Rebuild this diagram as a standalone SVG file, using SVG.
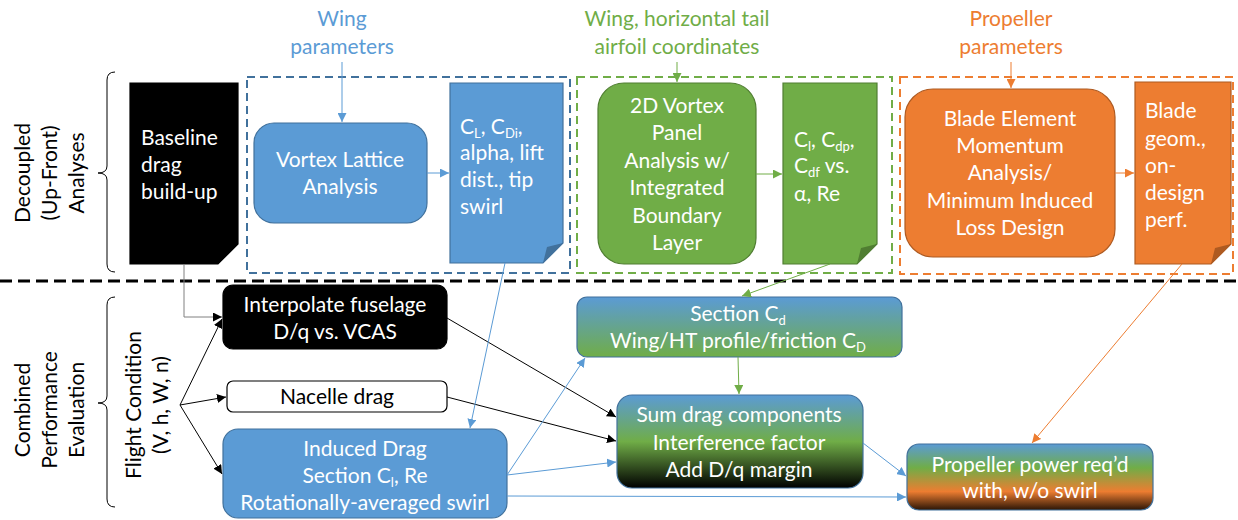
<svg xmlns="http://www.w3.org/2000/svg" width="1238" height="520" viewBox="0 0 1238 520">
  <defs>
    <style>
      .t { font-family: Lato, "Open Sans", "Liberation Sans", sans-serif; font-size: 21px; }
      .w { fill: #ffffff; }
      .k { fill: #000000; }
      .c { text-anchor: middle; }
      .blue { fill: #5B9BD5; stroke: #41719C; stroke-width: 1.2; }
      .green { fill: #70AD47; stroke: #507E32; stroke-width: 1.2; }
      .orange { fill: #ED7D31; stroke: #AE5A21; stroke-width: 1.2; }
      .black { fill: #000000; stroke: #000000; stroke-width: 1.2; }
      .grad { stroke: #41719C; stroke-width: 1.2; }
      .brace { fill: none; stroke: #000000; stroke-width: 1; }
      .dash { fill: none; stroke-width: 2; stroke-dasharray: 8 5; }
      .ck { fill: none; stroke: #000000; stroke-width: 1; }
      .cg { fill: none; stroke: #808080; stroke-width: 1; }
      .cb { fill: none; stroke: #5B9BD5; stroke-width: 1; }
      .cgr { fill: none; stroke: #70AD47; stroke-width: 1; }
      .co { fill: none; stroke: #ED7D31; stroke-width: 1; }
      .sub { font-size: 13px; }
    </style>
    <marker id="ak" viewBox="0 0 10 10" refX="10" refY="5" markerWidth="9" markerHeight="9" markerUnits="userSpaceOnUse" orient="auto">
      <path d="M0,0 L10,5 L0,10 Z" fill="#000000"/>
    </marker>
    <marker id="ab" viewBox="0 0 10 10" refX="10" refY="5" markerWidth="9" markerHeight="9" markerUnits="userSpaceOnUse" orient="auto">
      <path d="M0,0 L10,5 L0,10 Z" fill="#5B9BD5"/>
    </marker>
    <marker id="ag" viewBox="0 0 10 10" refX="10" refY="5" markerWidth="9" markerHeight="9" markerUnits="userSpaceOnUse" orient="auto">
      <path d="M0,0 L10,5 L0,10 Z" fill="#70AD47"/>
    </marker>
    <marker id="ao" viewBox="0 0 10 10" refX="10" refY="5" markerWidth="9" markerHeight="9" markerUnits="userSpaceOnUse" orient="auto">
      <path d="M0,0 L10,5 L0,10 Z" fill="#ED7D31"/>
    </marker>
    <linearGradient id="gSection" x1="0" y1="0" x2="0" y2="1">
      <stop offset="0" stop-color="#5B9BD5"/>
      <stop offset="1" stop-color="#70AD47"/>
    </linearGradient>
    <linearGradient id="gSum" x1="0" y1="0" x2="0" y2="1">
      <stop offset="0" stop-color="#5B9BD5"/>
      <stop offset="0.5" stop-color="#70AD47"/>
      <stop offset="1" stop-color="#000000"/>
    </linearGradient>
    <linearGradient id="gProp" x1="0" y1="0" x2="0" y2="1">
      <stop offset="0" stop-color="#5B9BD5"/>
      <stop offset="0.36" stop-color="#70AD47"/>
      <stop offset="0.72" stop-color="#ED7D31"/>
      <stop offset="1" stop-color="#2B1506"/>
    </linearGradient>
  </defs>

  <rect width="1238" height="520" fill="#ffffff"/>

  <!-- section braces and side titles -->
  <g id="upfront-label">
    <path class="brace" d="M115,72 Q107,72 107,80 L107,166 Q107,173 98,173 Q107,173 107,180 L107,264 Q107,272 115,272"/>
    <g transform="translate(0,173) rotate(-90)">
      <text class="t k c" x="0" y="30">Decoupled</text>
      <text class="t k c" x="0" y="57">(Up-Front)</text>
      <text class="t k c" x="0" y="84">Analyses</text>
    </g>
  </g>
  <g id="combined-label">
    <path class="brace" d="M115,297 Q107,297 107,305 L107,396 Q107,403 98,403 Q107,403 107,410 L107,499 Q107,507 115,507"/>
    <g transform="translate(0,410) rotate(-90)">
      <text class="t k c" x="0" y="30">Combined</text>
      <text class="t k c" x="0" y="57">Performance</text>
      <text class="t k c" x="0" y="84">Evaluation</text>
    </g>
  </g>
  <g id="flight-condition">
    <g transform="translate(0,405) rotate(-90)">
      <text class="t k c" x="0" y="141">Flight Condition</text>
      <text class="t k c" x="0" y="168">(V, h, W, n)</text>
    </g>
  </g>

  <!-- divider between the two phases -->
  <line x1="0" y1="281" x2="1238" y2="281" stroke="#000000" stroke-width="3" stroke-dasharray="12 6"/>

  <!-- input labels -->
  <g id="wing-params">
    <text class="t c" fill="#5B9BD5" x="342" y="26">Wing</text>
    <text class="t c" fill="#5B9BD5" x="342" y="54">parameters</text>
  </g>
  <g id="airfoil-coords">
    <text class="t c" fill="#70AD47" x="677" y="26">Wing, horizontal tail</text>
    <text class="t c" fill="#70AD47" x="677" y="54">airfoil coordinates</text>
  </g>
  <g id="prop-params">
    <text class="t c" fill="#ED7D31" x="1011" y="26">Propeller</text>
    <text class="t c" fill="#ED7D31" x="1011" y="54">parameters</text>
  </g>

  <!-- grouping frames -->
  <rect id="wing-frame" class="dash" stroke="#41719C" x="247" y="77" width="323" height="196"/>
  <rect id="airfoil-frame" class="dash" stroke="#70AD47" x="577" y="77" width="315" height="196"/>
  <rect id="prop-frame" class="dash" stroke="#ED7D31" x="900" y="77" width="333" height="197"/>

  <!-- up-front nodes -->
  <g id="baseline-drag">
    <path class="black" d="M130,83 H238 V244 L218,264 H130 Z"/>
    <text class="t w" x="141" y="145">Baseline</text>
    <text class="t w" x="141" y="172">drag</text>
    <text class="t w" x="141" y="199">build-up</text>
  </g>

  <g id="vortex-lattice">
    <rect class="blue" x="254" y="123" width="173" height="100" rx="20"/>
    <text class="t w c" x="340" y="167">Vortex Lattice</text>
    <text class="t w c" x="340" y="194">Analysis</text>
  </g>

  <g id="wing-results">
    <path class="blue" d="M450,83 H563 V243 L543,263 H450 Z"/>
    <path d="M563,243 L543,263 L547,247 Z" fill="#41719C"/>
    <text class="t w" x="460" y="134">C<tspan class="sub" dy="4">L</tspan><tspan dy="-4">, C</tspan><tspan class="sub" dy="4">Di</tspan><tspan dy="-4">,</tspan></text>
    <text class="t w" x="460" y="160">alpha, lift</text>
    <text class="t w" x="460" y="187">dist., tip</text>
    <text class="t w" x="460" y="214">swirl</text>
  </g>

  <g id="vortex-panel">
    <rect class="green" x="598" y="83" width="158" height="181" rx="26"/>
    <text class="t w c" x="677" y="113">2D Vortex</text>
    <text class="t w c" x="677" y="140">Panel</text>
    <text class="t w c" x="677" y="168">Analysis w/</text>
    <text class="t w c" x="677" y="195">Integrated</text>
    <text class="t w c" x="677" y="223">Boundary</text>
    <text class="t w c" x="677" y="250">Layer</text>
  </g>

  <g id="airfoil-results">
    <path class="green" d="M783,83 H877 V244 L857,264 H783 Z"/>
    <path d="M877,244 L857,264 L861,248 Z" fill="#507E32"/>
    <text class="t w" x="794" y="147">C<tspan class="sub" dy="4">l</tspan><tspan dy="-4">, C</tspan><tspan class="sub" dy="4">dp</tspan><tspan dy="-4">,</tspan></text>
    <text class="t w" x="794" y="173">C<tspan class="sub" dy="4">df</tspan><tspan dy="-4"> vs.</tspan></text>
    <text class="t w" x="794" y="201">α, Re</text>
  </g>

  <g id="bem">
    <rect class="orange" x="905" y="89" width="210" height="168" rx="28"/>
    <text class="t w c" x="1010" y="126">Blade Element</text>
    <text class="t w c" x="1010" y="153">Momentum</text>
    <text class="t w c" x="1010" y="180">Analysis/</text>
    <text class="t w c" x="1010" y="208">Minimum Induced</text>
    <text class="t w c" x="1010" y="235">Loss Design</text>
  </g>

  <g id="blade-results">
    <path class="orange" d="M1135,82 H1231 V244 L1211,264 H1135 Z"/>
    <path d="M1231,244 L1211,264 L1215,248 Z" fill="#AE5A21"/>
    <text class="t w" x="1145" y="118">Blade</text>
    <text class="t w" x="1145" y="146">geom.,</text>
    <text class="t w" x="1145" y="173">on-</text>
    <text class="t w" x="1145" y="200">design</text>
    <text class="t w" x="1145" y="227">perf.</text>
  </g>

  <!-- performance evaluation nodes -->
  <g id="fuselage">
    <rect class="black" x="223" y="285" width="224" height="64" rx="10"/>
    <text class="t w c" x="335" y="312">Interpolate fuselage</text>
    <text class="t w c" x="335" y="339">D/q vs. VCAS</text>
  </g>

  <g id="nacelle">
    <rect fill="#ffffff" stroke="#000000" stroke-width="1.2" x="227" y="381" width="220" height="31" rx="6"/>
    <text class="t k c" x="337" y="404">Nacelle drag</text>
  </g>

  <g id="induced-drag">
    <rect class="blue" x="223" y="429" width="284" height="89" rx="15"/>
    <text class="t w c" x="365" y="456">Induced Drag</text>
    <text class="t w c" x="365" y="483">Section C<tspan class="sub" dy="4">l</tspan><tspan dy="-4">, Re</tspan></text>
    <text class="t w c" x="365" y="510">Rotationally-averaged swirl</text>
  </g>

  <g id="section-cd">
    <rect class="grad" fill="url(#gSection)" x="577" y="297" width="325" height="60" rx="10"/>
    <text class="t w c" x="738" y="321">Section C<tspan class="sub" dy="4">d</tspan></text>
    <text class="t w c" x="738" y="348">Wing/HT profile/friction C<tspan class="sub" dy="4">D</tspan></text>
  </g>

  <g id="sum-drag">
    <rect class="grad" fill="url(#gSum)" x="617" y="395" width="246" height="93" rx="15"/>
    <text class="t w c" x="739" y="422">Sum drag components</text>
    <text class="t w c" x="739" y="450">Interference factor</text>
    <text class="t w c" x="739" y="477">Add D/q margin</text>
  </g>

  <g id="prop-power">
    <rect class="grad" fill="url(#gProp)" x="907" y="444" width="246" height="66" rx="12"/>
    <text class="t w c" x="1030" y="472">Propeller power req’d</text>
    <text class="t w c" x="1030" y="498">with, w/o swirl</text>
  </g>

  <!-- connectors -->
  <g id="connectors">
    <line class="cb" x1="342" y1="62" x2="342" y2="122" marker-end="url(#ab)"/>
    <line class="cgr" x1="677" y1="62" x2="677" y2="82" marker-end="url(#ag)"/>
    <line class="co" x1="1011" y1="62" x2="1011" y2="88" marker-end="url(#ao)"/>

    <line class="cb" x1="427" y1="173" x2="449" y2="173" marker-end="url(#ab)"/>
    <line class="cgr" x1="756" y1="174" x2="782" y2="174" marker-end="url(#ag)"/>
    <line class="co" x1="1115" y1="173" x2="1134" y2="173" marker-end="url(#ao)"/>

    <polyline class="cg" points="184,264 184,317 222,317" marker-end="url(#ak)"/>
    <line class="ck" x1="180" y1="405" x2="222" y2="319" marker-end="url(#ak)"/>
    <line class="ck" x1="180" y1="405" x2="226" y2="397" marker-end="url(#ak)"/>
    <line class="ck" x1="180" y1="405" x2="222" y2="474" marker-end="url(#ak)"/>

    <line class="ck" x1="447" y1="318" x2="616" y2="417" marker-end="url(#ak)"/>
    <line class="ck" x1="447" y1="397" x2="616" y2="441" marker-end="url(#ak)"/>

    <line class="cb" x1="505" y1="263" x2="470" y2="428" marker-end="url(#ab)"/>
    <line class="cgr" x1="830" y1="264" x2="742" y2="296" marker-end="url(#ag)"/>
    <line class="cgr" x1="738" y1="357" x2="739" y2="394" marker-end="url(#ag)"/>
    <line class="co" x1="1182" y1="264" x2="1032" y2="443" marker-end="url(#ao)"/>

    <line class="cb" x1="507" y1="475" x2="616" y2="462" marker-end="url(#ab)"/>
    <line class="cb" x1="507" y1="475" x2="585" y2="358" marker-end="url(#ab)"/>
    <line class="cb" x1="507" y1="496" x2="906" y2="497" marker-end="url(#ab)"/>
    <line class="cb" x1="863" y1="443" x2="906" y2="476" marker-end="url(#ab)"/>
  </g>
</svg>
